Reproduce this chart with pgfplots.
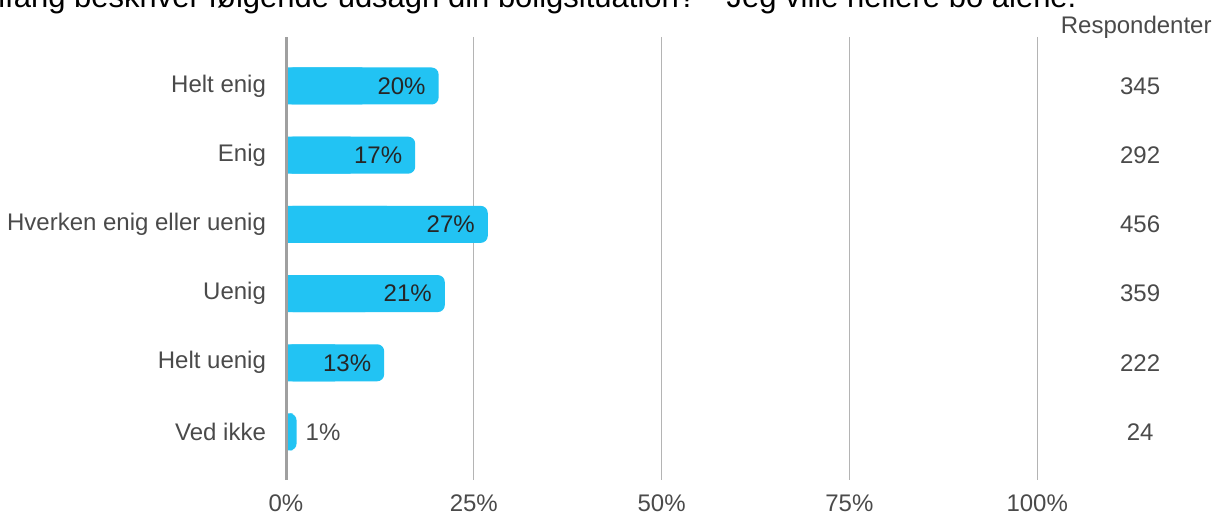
\documentclass[border=0pt]{standalone}
\usepackage{fontspec}
\setmainfont{Liberation Sans}
\usepackage{pgfplots}
\pgfplotsset{compat=1.18}
\usepackage{pgfplotstable}
\definecolor{barblue}{HTML}{22C3F3}
\definecolor{labgray}{HTML}{4A4A4A}
\definecolor{gridgray}{HTML}{B4B4B4}
\definecolor{axisgray}{HTML}{A0A0A0}

% share of respondents (%), shown label, number of respondents
\pgfplotstableread{
idx pct lab n
0 20.32 20 345
1 17.20 17 292
2 26.86 27 456
3 21.14 21 359
4 13.07 13 222
5 1.41 1 24
}\answers

\begin{document}
\begin{tikzpicture}
\begin{axis}[
  at={(143pt,-240pt)}, anchor=south west,
  x=3.756pt, y=34.6pt, y dir=reverse,
  xmin=0, xmax=100, ymin=-0.708, ymax=5.694,
  axis line style={draw=none},
  tick style={draw=none},
  xtick={0,25,50,75,100},
  xticklabels={0\%,25\%,50\%,75\%,100\%},
  xmajorgrids, grid style={gridgray, line width=0.6pt},
  ytick={0,...,5},
  yticklabels={Helt enig,Enig,Hverken enig eller uenig,Uenig,Helt uenig,Ved ikke},
  ticklabel style={font=\fontsize{12}{14}\selectfont, text=labgray},
  xticklabel style={yshift=-4pt},
  yticklabel style={xshift=-6.5pt},
  clip=false,
]
% bars: rounded one, plus a square half-length bar to keep the left end square
\addplot[xbar, bar width=18.5pt, bar shift=0pt, fill=barblue, draw=none, rounded corners=3.5pt]
  table[x=pct, y=idx] {\answers};
\addplot[xbar, bar width=18.5pt, bar shift=0pt, fill=barblue, draw=none]
  table[x expr=\thisrow{pct}/2, y=idx] {\answers};

% labels inside the bars
\addplot[only marks, mark=text, text mark={},
  point meta=explicit symbolic, skip coords between index={5}{6},
  nodes near coords={\pgfplotspointmeta\%},
  nodes near coords style={anchor=east, xshift=-3pt, text=black!85, font=\fontsize{12}{14}\selectfont}]
  table[x=pct, y=idx, meta=lab] {\answers};
% small bar: label outside
\addplot[only marks, mark=text, text mark={},
  point meta=explicit symbolic, skip coords between index={0}{5},
  nodes near coords={\pgfplotspointmeta\%},
  nodes near coords style={anchor=west, xshift=1pt, text=labgray, font=\fontsize{12}{14}\selectfont}]
  table[x=pct, y=idx, meta=lab] {\answers};

% respondent counts
\addplot[only marks, mark=text, text mark={},
  point meta=explicit symbolic,
  nodes near coords={\pgfplotspointmeta},
  nodes near coords style={anchor=center, text=labgray, font=\fontsize{12}{14}\selectfont}]
  table[x expr=113.7, y=idx, meta=n] {\answers};

\draw[axisgray, line width=1.5pt] (rel axis cs:0,0) -- (rel axis cs:0,1);
\end{axis}

\node[anchor=base east, inner sep=0pt, font=\fontsize{12}{14}\selectfont, text=labgray] at (606pt,-17pt) {Respondenter};
\node[anchor=base east, inner sep=0pt, font=\fontsize{15.5}{18}\selectfont, text=black] at (538.5pt,-4pt)
  {I hvilket omfang beskriver følgende udsagn din boligsituation? - Jeg ville hellere bo alene.};

\pgfresetboundingbox
\path[use as bounding box] (0,0) rectangle (615.5pt,-258.5pt);
\end{tikzpicture}
\end{document}
